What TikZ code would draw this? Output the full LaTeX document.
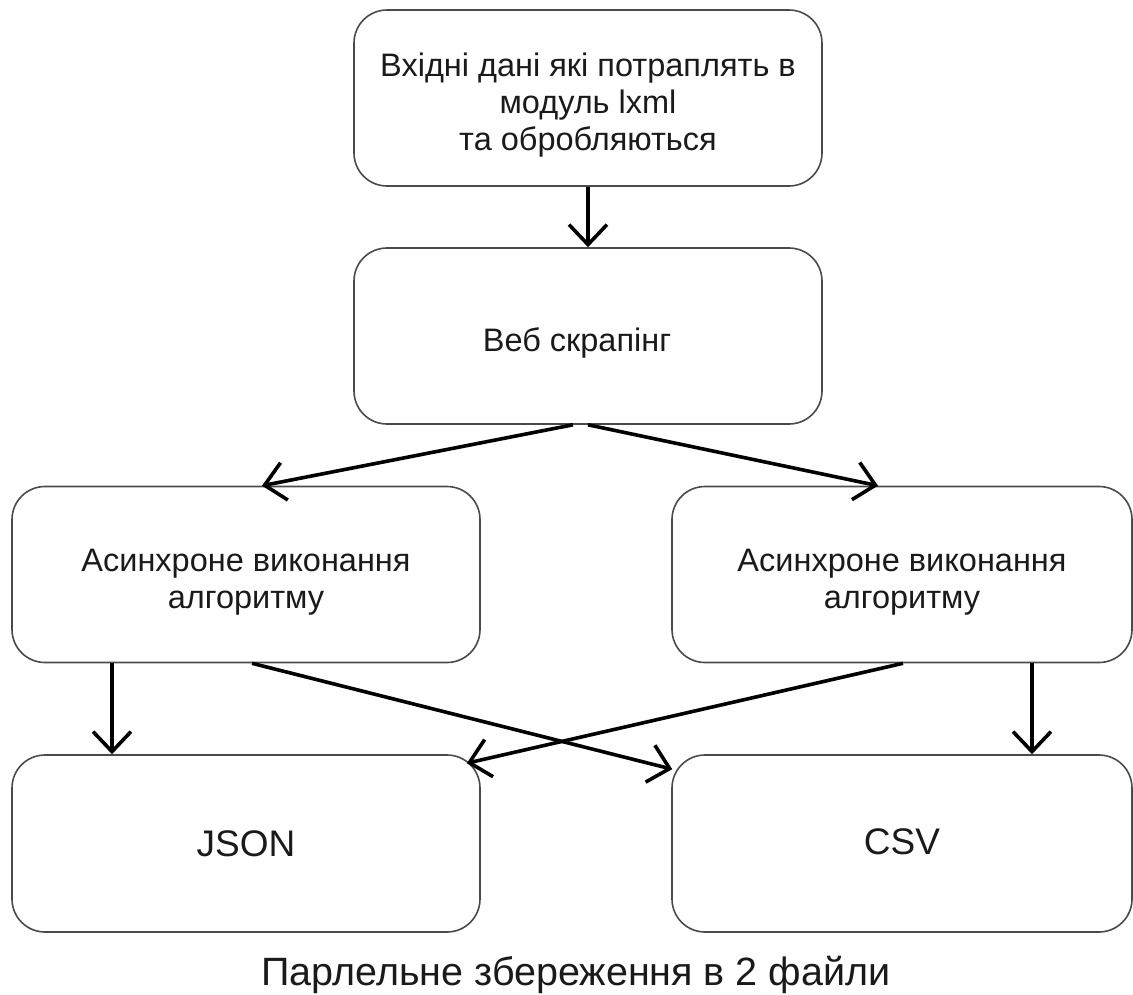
\documentclass[tikz,border=0pt]{standalone}
\usepackage{fontspec}
\setmainfont{Liberation Sans}
\usetikzlibrary{arrows.meta,calc}
\definecolor{ink}{HTML}{1A1A1A}
\definecolor{frame}{HTML}{4A4A4A}
% taller first-line strut: pushes the text block slightly down in its box
\newcommand{\lowstrut}{\rule{0pt}{37pt}}
\begin{document}
\begin{tikzpicture}[x=1pt,y=-1pt,
  box/.style={draw=frame, line width=1.6pt, rounded corners=33pt,
    minimum width=468pt, minimum height=176pt, align=center,
    text=ink, font=\fontsize{32.5}{37}\selectfont, inner sep=0pt},
  bigbox/.style={box, font=\fontsize{37}{42}\selectfont},
  flow/.style={draw=black, line width=3.6pt,
    -{Straight Barb[length=20pt,width=38pt,line width=3.6pt]}}]
\useasboundingbox (0,0) rectangle (1133,994);

% process boxes
\node[box] (input) at (588,98) {\lowstrut Вхідні дані які потраплять в\\модуль lxml\\та обробляються};
\node[box] (scrape) at (588,336) {\lowstrut\hspace*{-22pt}Веб скрапінг};
\node[box] (asyncL) at (246,574.5) {\lowstrut Асинхроне виконання\\алгоритму};
\node[box, minimum width=460pt] (asyncR) at (902,574.5) {\lowstrut Асинхроне виконання\\алгоритму};
\node[bigbox, minimum height=177pt] (json) at (246,843.5) {\raisebox{-4pt}{JSON}};
\node[bigbox, minimum height=177pt, minimum width=460pt] (csv) at (902,843.5) {\raisebox{3pt}{CSV}};

% caption under the output files
\node[anchor=base, text=ink, font=\fontsize{39.5}{44}\selectfont] (caption) at (576,985) {Парлельне збереження в 2 файли};

% connectors
\draw[flow] (input.south) -- (scrape.north);
\draw[flow] ($(scrape.south)+(-15,0)$) -- ($(asyncL.north)+(16,0)$);
\draw[flow] (scrape.south) -- ($(asyncR.north)+(-24,0)$);
\draw[flow] ($(asyncL.south)+(-134,0)$) -- ($(json.north)+(-134,0)$);
\draw[flow] ($(asyncL.south)+(6,0)$) -- ($(csv.north west)+(1,15)$);
\draw[flow] ($(asyncR.south)+(1,0)$) -- ($(json.north east)+(-14,9)$);
\draw[flow] ($(asyncR.south)+(130,0)$) -- ($(csv.north)+(130,0)$);
\end{tikzpicture}
\end{document}
